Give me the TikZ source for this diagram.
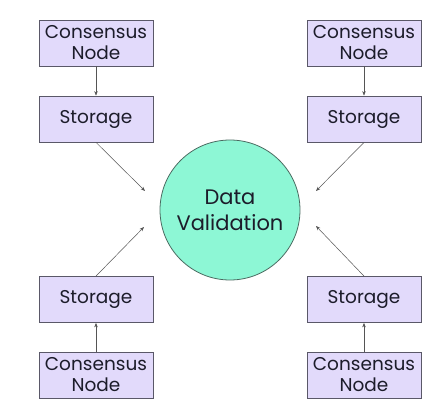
\documentclass[tikz,border=0pt]{standalone}
\usepackage{fontspec}
\setmainfont{Poppins}
\usetikzlibrary{arrows.meta}
\definecolor{boxfill}{HTML}{E2DAFB}
\definecolor{boxdraw}{HTML}{5A5868}
\definecolor{circfill}{HTML}{8DF7D5}
\definecolor{circdraw}{HTML}{4A6A60}
\definecolor{txt}{HTML}{1C1C2A}
\definecolor{arr}{HTML}{555555}
\tikzset{
  box/.style={draw=boxdraw, fill=boxfill, line width=0.8pt, minimum width=114pt, minimum height=46pt, inner sep=0pt, align=center, text=txt, font=\fontsize{18.5}{21}\selectfont},
  hub/.style={circle, draw=circdraw, fill=circfill, line width=0.8pt, minimum size=140pt, inner sep=0pt, align=center, text=txt, font=\fontsize{21}{26}\selectfont},
  link/.style={draw=arr, line width=0.5pt, -{Stealth[length=4.5pt, width=3.5pt]}}
}
\begin{document}
\begin{tikzpicture}[x=1pt, y=-1pt]
\useasboundingbox (0,0) rectangle (442,412);
\node[box] (c1) at (96,43) {Consensus\\Node};
\node[box] (s1) at (96,119) {Storage};
\node[box] (c2) at (364,43) {Consensus\\Node};
\node[box] (s2) at (364,119) {Storage};
\node[box] (s3) at (96,299.5) {Storage};
\node[box] (c3) at (96,375) {Consensus\\Node};
\node[box] (s4) at (364,299.5) {Storage};
\node[box] (c4) at (364,375) {Consensus\\Node};
\node[hub] (dv) at (230,210) {Data\\Validation};
\coordinate (e1) at (145,191);
\coordinate (e2) at (316,191);
\coordinate (e3) at (144,227);
\coordinate (e4) at (316,226);
\draw[link] (c1) -- (s1);
\draw[link] (c2) -- (s2);
\draw[link] (c3) -- (s3);
\draw[link] (c4) -- (s4);
\draw[link] (s1.south) -- (e1);
\draw[link] (s2.south) -- (e2);
\draw[link] (s3.north) -- (e3);
\draw[link] (s4.north) -- (e4);
\end{tikzpicture}
\end{document}
